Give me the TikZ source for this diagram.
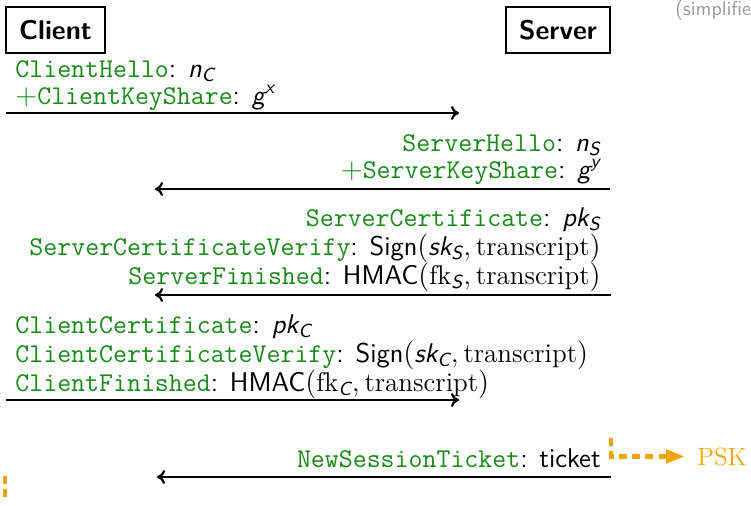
\documentclass[tikz,border=0pt]{standalone}
\usepackage{fontspec}
\usetikzlibrary{arrows.meta}
\definecolor{tlsgreen}{RGB}{24,136,24}
\definecolor{pskorange}{RGB}{243,163,0}
\newcommand\msgname[1]{\textcolor{tlsgreen}{\ttfamily #1}}
\newcommand\plusmsg[1]{\textcolor{tlsgreen}{$+$\ttfamily #1}}
\newcommand\tvar[2]{{\itshape #1}\textsubscript{\itshape #2}}
\begin{document}
\begin{tikzpicture}[x=0.5pt,y=-0.5pt,
  every node/.style={font=\sffamily\fontsize{13.55}{16}\selectfont, inner sep=0pt},
  party/.style={draw, line width=1pt, minimum height=23pt, font=\sffamily\bfseries\fontsize{13.5}{15}\selectfont},
  msgleft/.style={anchor=base west},
  msgright/.style={anchor=base east},
  msgarrow/.style={line width=1.1pt, -{Computer Modern Rightarrow[length=4pt,width=7pt]}},
  pskline/.style={draw=pskorange, line width=2.2pt, dash pattern=on 4pt off 2.6pt, -{Triangle[length=9.5pt,width=6.5pt]}},
  note/.style={font=\sffamily\fontsize{10}{12}\selectfont, text=black!40, anchor=base west}]
\useasboundingbox (0,0) rectangle (751,505);
% parties
\node[party, minimum width=49.5pt] (client) at (55.5,30) {Client};
\node[party, minimum width=52pt] (server) at (558,30) {Server};
\node[note] (simpl) at (675,15) {(simplified)};
% flight 1
\node[msgleft] (ch) at (15,77) {\msgname{ClientHello}: \tvar{n}{C}};
\node[msgleft] (cks) at (15,104) {\plusmsg{ClientKeyShare}: {\itshape g}\textsuperscript{\itshape x}};
\coordinate (a1s) at (6,113);
\coordinate (a1e) at (459,113);
\draw[msgarrow] (a1s) -- (a1e);
% flight 2
\node[msgright] (sh) at (601,151) {\msgname{ServerHello}: \tvar{n}{S}};
\node[msgright] (sks) at (601,178) {\plusmsg{ServerKeyShare}: {\itshape g}\textsuperscript{\itshape y}};
\coordinate (a2s) at (610,189);
\coordinate (a2e) at (155,189);
\draw[msgarrow] (a2s) -- (a2e);
% flight 3
\node[msgright] (sc) at (601,226) {\msgname{ServerCertificate}: \tvar{pk}{S}};
\node[msgright] (scv) at (601,255) {\msgname{ServerCertificateVerify}: Sign$(\mbox{\tvar{sk}{S}},\mathrm{transcript})$};
\node[msgright] (sf) at (601,284) {\msgname{ServerFinished}: HMAC$(\mathrm{fk}$\textsubscript{\itshape S}$,\mathrm{transcript})$};
\coordinate (a3s) at (611,295);
\coordinate (a3e) at (155,295);
\draw[msgarrow] (a3s) -- (a3e);
% flight 4
\node[msgleft] (cc) at (15,333) {\msgname{ClientCertificate}: \tvar{pk}{C}};
\node[msgleft] (ccv) at (15,362) {\msgname{ClientCertificateVerify}: Sign$(\mbox{\tvar{sk}{C}},\mathrm{transcript})$};
\node[msgleft] (cf) at (15,391) {\msgname{ClientFinished}: HMAC$(\mathrm{fk}$\textsubscript{\itshape C}$,\mathrm{transcript})$};
\coordinate (a4s) at (6,400);
\coordinate (a4e) at (459,400);
\draw[msgarrow] (a4s) -- (a4e);
% flight 5
\node[msgright] (nst) at (601,467) {\msgname{NewSessionTicket}: ticket};
\coordinate (a5s) at (611,477);
\coordinate (a5e) at (157,477);
\draw[msgarrow] (a5s) -- (a5e);
% PSK
\node[anchor=base west, font=\rmfamily\fontsize{12.5}{14}\selectfont, text=pskorange] (psk) at (697,465) {PSK};
\coordinate (pskstart) at (611,438);
\draw[pskline, shorten >=6pt] (pskstart) |- (psk.west);
\coordinate (lstart) at (5,476);
\coordinate (lcorner) at (5,495);
\coordinate (lend) at (-30,495);
\draw[draw=pskorange, line width=2.2pt, dash pattern=on 4pt off 2.6pt] (lstart) -- (lcorner) -- (lend);
\end{tikzpicture}
\end{document}
